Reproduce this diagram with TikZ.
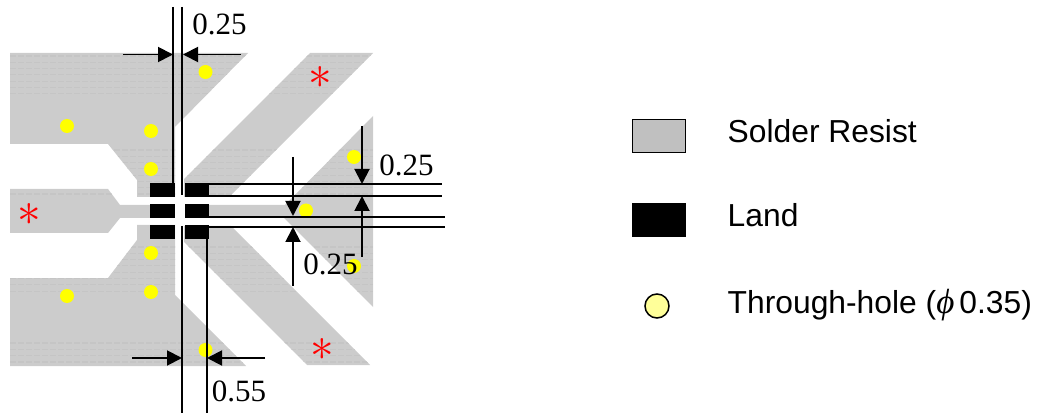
\documentclass[tikz,border=0pt]{standalone}
\usepackage{fontspec}
\setmainfont{Liberation Serif}
\newfontfamily\legendfont{Liberation Sans}
\usetikzlibrary{positioning, arrows.meta}
\definecolor{resist}{HTML}{CCCCCC}
\definecolor{resistrow}{HTML}{C5C5C5}
\definecolor{resistkey}{HTML}{C0C0C0}
\definecolor{viayellow}{HTML}{FFFF00}
\definecolor{keyyellow}{HTML}{FFFF99}
\newcommand{\resistshape}{
	(10,53) -- (248,53) -- (175,127) -- (175,197) -- (137,197) -- (137,180) -- (108,144) -- (10,144) -- cycle
	(10,189) -- (108,189) -- (120,205) -- (150,205) -- (150,218) -- (120,218) -- (108,233) -- (10,233) -- cycle
	(10,278) -- (108,278) -- (137,240) -- (137,225) -- (175,225) -- (175,295) -- (246,366) -- (10,366) -- cycle
	(310,53) -- (373,53) -- (229,197) -- (184,197) -- (184,179) -- cycle
	(184,226) -- (231,226) -- (370,365) -- (307,365) -- (184,242) -- cycle
	(209,205) -- (285,205) -- (373,116) -- (373,307) -- (284,218) -- (209,218) -- cycle}

\begin{document}
\begin{tikzpicture}[x=1pt, y=-1pt,
	land/.style={fill=black, draw=none},
	via/.style={circle, fill=viayellow, draw=none, minimum size=14pt, inner sep=0pt},
	refline/.style={line width=1.9pt},
	rows/.style={draw=resistrow, line width=1.2pt, dash pattern=on 6pt off 2pt},
	dimarrow/.style={line width=1.9pt, -{Triangle[length=15pt, width=15pt]}},
	dimtext/.style={font=\fontsize{31}{31}\selectfont, inner sep=0pt, anchor=base},
	star/.style={font=\fontsize{24.88}{25}\selectfont, scale=1.9, text=red, inner sep=0pt, anchor=base},
	keytext/.style={font=\legendfont\fontsize{31.8}{32}\selectfont, inner sep=0pt, anchor=base west}]
	\useasboundingbox (0,0) rectangle (1039,414);
	% solder resist
	\fill[resist] \resistshape;
	\begin{scope}
		\clip \resistshape;
		\foreach \y in {56,62.3,...,100, 150,156.3,...,195, 247,253.3,...,295, 343,349.3,...,364}
			\draw[rows] (10,\y) -- (373,\y);
	\end{scope}
	% lands
	\path[land] (150,183) rectangle (175,197); \path[land] (185,183) rectangle (209,197);
	\path[land] (150,204) rectangle (175,218); \path[land] (185,204) rectangle (209,218);
	\path[land] (150,225) rectangle (175,239); \path[land] (185,225) rectangle (209,239);
	% through-holes
	\node[via] (v1) at (205.5,72) {}; \node[via] (v2) at (67,126) {};
	\node[via] (v3) at (151,131) {}; \node[via] (v4) at (151,169) {};
	\node[via] (v5) at (151,253) {}; \node[via] (v6) at (151,292) {};
	\node[via] (v7) at (67,296) {}; \node[via] (v8) at (205.5,350) {};
	\node[via] (v9) at (354,157) {}; \node[via] (v10) at (306,210.5) {};
	\node[via] (v11) at (354,266) {};
	\node[star] (s1) at (320,88.8) {$\ast$}; \node[star] (s2) at (29,225.8) {$\ast$}; \node[star] (s3) at (322,360.8) {$\ast$};
	% reference lines
	\draw[refline] (173,7) -- (173,183); \draw[refline] (182,7) -- (182,195);
	\draw[refline] (182,226) -- (182,413); \draw[refline] (207,226) -- (207,413);
	\draw[refline] (200,184) -- (442,184); \draw[refline] (209,196) -- (442,196);
	\draw[refline] (203,217) -- (445,217); \draw[refline] (207,227) -- (445,227);
	% dimensions
	\draw[dimarrow] (123,54.5) -- (173,54.5); \draw[dimarrow] (241,54.5) -- (183,54.5);
	\draw[dimarrow] (132,358) -- (182,358); \draw[dimarrow] (265,358) -- (207,358);
	\draw[dimarrow] (362,126) -- (362,184); \draw[dimarrow] (293,157) -- (293,216);
	\draw[dimarrow] (293,286) -- (293,227); \draw[dimarrow] (362,257) -- (362,196);
	\node[dimtext] (d1) at (219.5,35) {0.25}; \node[dimtext] (d2) at (406.5,176) {0.25};
	\node[dimtext] (d3) at (330.5,274) {0.25}; \node[dimtext] (d4) at (239,401) {0.55};
	% legend
	\node[draw=black, line width=1.5pt, fill=resistkey, minimum width=53pt, minimum height=33pt, inner sep=0pt] (keyresist) at (659,136) {};
	\node[fill=black, minimum width=54pt, minimum height=34pt, inner sep=0pt, below=50pt of keyresist] (keyland) {};
	\node[circle, draw=black, line width=1.5pt, fill=keyyellow, minimum size=24pt, inner sep=0pt] (keyhole) at (657,306) {};
	\node[keytext] (tresist) at (727.5,143) {Solder Resist};
	\node[keytext] (tland) at (727.5,227) {Land};
	\node[keytext] (thole) at (727.5,313) {Through-hole ({\rmfamily\itshape\fontsize{35}{32}\selectfont ϕ}\hspace{5pt}0.35)};
\end{tikzpicture}
\end{document}
